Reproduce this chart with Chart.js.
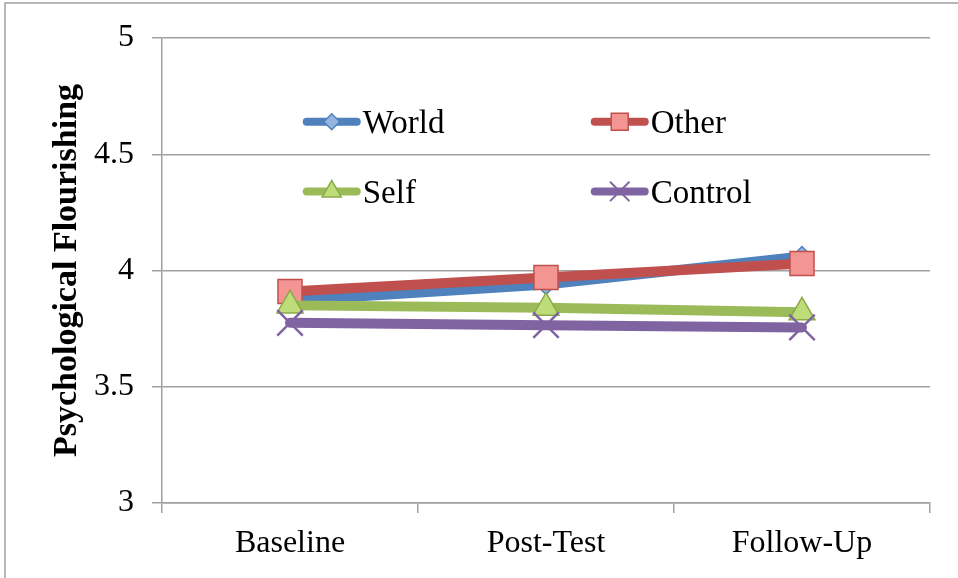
<!DOCTYPE html>
<html>
<head>
<meta charset="utf-8">
<script src="https://cdn.jsdelivr.net/npm/chart.js@4/dist/chart.umd.min.js"></script>
<style>
  html, body { margin: 0; padding: 0; background: #fff; }
  #box { position: relative; width: 958px; height: 578px; }
</style>
</head>
<body>
<div id="box"><canvas id="chart-flourishing"></canvas></div>
<script>
  /*
    ==================== DATA ====================
  */

  let categories = ['Baseline', 'Post-Test', 'Follow-Up'];
  let seriesNames = ['World', 'Other', 'Self', 'Control'];

  let world = [3.87, 3.94, 4.06];
  let other = [3.91, 3.97, 4.03];
  let self = [3.85, 3.84, 3.82];
  let control = [3.775, 3.765, 3.755];

  let yTicks = [3, 3.5, 4, 4.5, 5];

  /*
    ==================== STYLE ====================
  */

  let font = "'Liberation Serif', 'DejaVu Serif', serif";

  let looks = [
    { line: '#4F81BD', fill: '#93B5E0', border: '#4F81BD', style: 'rectRot', r: 10, lr: 8 },
    { line: '#C0504D', fill: '#F39593', border: '#C0504D', style: 'rect', r: 17, lr: 12 },
    { line: '#9BBB59', fill: '#BEDC78', border: '#8AAA48', style: 'triangle', r: 15, lr: 11 },
    { line: '#8064A2', fill: '#8064A2', border: '#8064A2', style: 'crossRot', r: 18, lr: 13 },
  ];

  let values = [world, other, self, control];

  let datasets = values.map((data, i) => ({
    label: seriesNames[i],
    data,
    order: 4 - i,
    borderColor: looks[i].line,
    borderWidth: 10,
    borderCapStyle: 'round',
    borderJoinStyle: 'round',
    pointStyle: looks[i].style,
    pointRadius: looks[i].r,
    pointHoverRadius: looks[i].r,
    pointBackgroundColor: looks[i].fill,
    pointBorderColor: looks[i].border,
    pointBorderWidth: i == 3 ? 2.5 : 1.5,
    tension: 0,
  }));

  /*
    ==================== PLUGINS ====================
  */

  // white background + grey frame on top and left edges
  let framePlugin = {
    id: 'frame',
    beforeDraw(chart) {
      let { ctx, width, height } = chart;
      ctx.save();
      ctx.fillStyle = '#fff';
      ctx.fillRect(0, 0, width, height);
      ctx.strokeStyle = '#A0A0A0';
      ctx.lineWidth = 1.5;
      ctx.beginPath();
      ctx.moveTo(5, height);
      ctx.lineTo(5, 3);
      ctx.lineTo(width, 3);
      ctx.stroke();
      ctx.restore();
    }
  };

  // legend drawn inside the plot area, two columns
  let innerLegend = {
    id: 'innerLegend',
    afterDraw(chart) {
      let { ctx, chartArea } = chart;
      let w = chartArea.right - chartArea.left;
      let h = chartArea.bottom - chartArea.top;
      let cols = [chartArea.left + w * 0.221, chartArea.left + w * 0.596];
      let rows = [chartArea.top + h * 0.18, chartArea.top + h * 0.33];

      ctx.save();
      seriesNames.forEach((name, i) => {
        let cx = cols[i % 2];
        let cy = rows[Math.floor(i / 2)];
        let look = looks[i];

        ctx.strokeStyle = look.line;
        ctx.lineWidth = 8;
        ctx.lineCap = 'round';
        ctx.beginPath();
        ctx.moveTo(cx - 25, cy);
        ctx.lineTo(cx + 25, cy);
        ctx.stroke();

        ctx.fillStyle = look.fill;
        ctx.strokeStyle = look.border;
        ctx.lineWidth = i == 3 ? 2 : 1.5;
        Chart.helpers.drawPoint(ctx, {
          pointStyle: look.style,
          radius: look.lr,
          rotation: 0,
          borderWidth: ctx.lineWidth,
        }, cx, cy);

        ctx.fillStyle = '#000';
        ctx.font = `33px ${font}`;
        ctx.textBaseline = 'middle';
        ctx.textAlign = 'left';
        ctx.fillText(name, cx + 31, cy + 3);
      });
      ctx.restore();
    }
  };

  /*
    ==================== CHART ====================
  */

  /** @type {HTMLCanvasElement} */
  let canvas = document.getElementById('chart-flourishing');

  new Chart(canvas, {
    type: 'line',
    data: { labels: categories, datasets },
    options: {
      responsive: true,
      maintainAspectRatio: false,
      animation: false,
      devicePixelRatio: 1,
      layout: { padding: { top: 38, right: 28, left: 0, bottom: 0 } },
      plugins: {
        legend: { display: false },
        tooltip: { enabled: false },
      },
      scales: {
        x: {
          type: 'category',
          offset: true,
          grid: {
            offset: true,
            drawOnChartArea: false,
            drawTicks: true,
            tickLength: 10,
            color: '#A0A0A0',
            lineWidth: 1.5,
          },
          border: { color: '#A0A0A0', width: 1.5 },
          ticks: {
            color: '#000',
            padding: 11,
            font: { family: font, size: 32 },
          },
          afterFit(scale) { scale.height = 75; },
        },
        y: {
          min: yTicks[0],
          max: yTicks[yTicks.length - 1],
          afterBuildTicks(scale) { scale.ticks = yTicks.map(v => ({ value: v })); },
          grid: {
            color: '#A0A0A0',
            lineWidth: 1.5,
            tickLength: 10,
          },
          border: { color: '#A0A0A0', width: 1.5 },
          ticks: {
            color: '#000',
            padding: 18,
            font: { family: font, size: 32 },
            callback: v => String(v),
          },
          title: {
            display: true,
            text: 'Psychological Flourishing',
            color: '#000',
            font: { family: font, size: 34, weight: 'bold' },
            padding: { top: 47, bottom: 0 },
          },
          afterFit(scale) { scale.width = 162; },
        },
      },
    },
    plugins: [framePlugin, innerLegend],
  });
</script>
</body>
</html>
